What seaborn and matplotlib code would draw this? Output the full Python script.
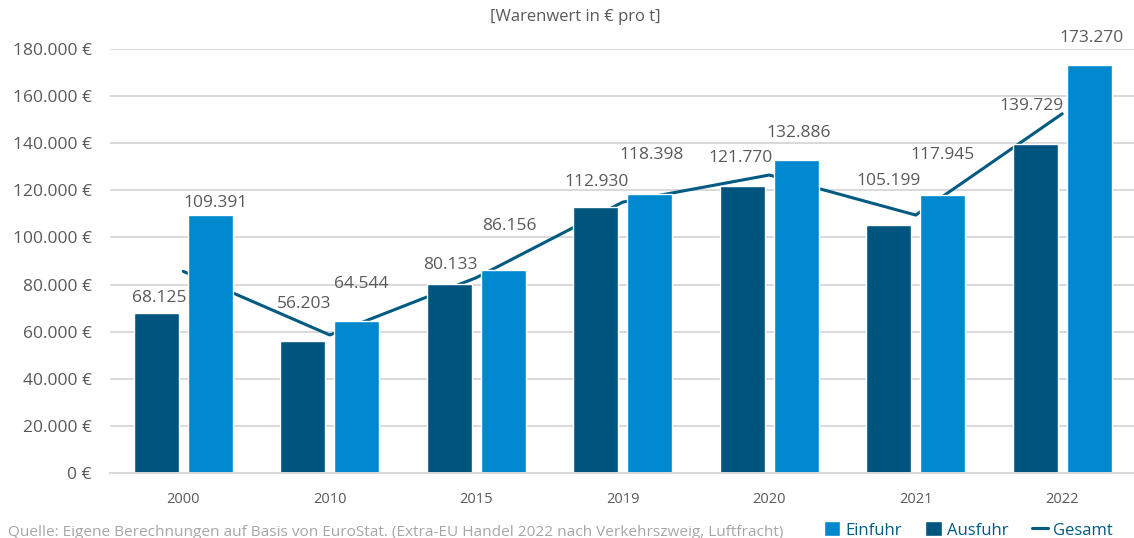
import numpy as np
import pandas as pd
import matplotlib
matplotlib.use("Agg")
import matplotlib.pyplot as plt
import seaborn as sns
from matplotlib.patches import Patch
from matplotlib.lines import Line2D
from matplotlib.ticker import FuncFormatter, MultipleLocator

# ---- data ----
years = ["2000", "2010", "2015", "2019", "2020", "2021", "2022"]
ausfuhr = [68125, 56203, 80133, 112930, 121770, 105199, 139729]
einfuhr = [109391, 64544, 86156, 118398, 132886, 117945, 173270]
gesamt = [85600, 58600, 82900, 115000, 126500, 109500, 152500]
series_names = ["Ausfuhr", "Einfuhr"]

# label offsets (pixels above bar top, horizontal shift)
dy_aus = [15, 37, 19, 25, 28, 44, 38]
dy_ein = [12, 37, 44, 39, 27, 40, 27]
dx_aus = [3, 1, 1, 1, -2, 0, -4]
dx_ein = [5, 5, 6, 2, 2, 0, 2]

C_AUS = "#00557F"
C_EIN = "#0088CE"
C_LINE = "#005A82"
C_TEXT = "#595959"
C_GRID = "#D9D9D9"

sns.set_theme(style="white")
plt.rcParams["font.family"] = ["Open Sans", "DejaVu Sans"]

df = pd.DataFrame({
    "Jahr": years * 2,
    "Wert": ausfuhr + einfuhr,
    "Serie": [series_names[0]] * len(years) + [series_names[1]] * len(years),
})

fig = plt.figure(figsize=(11.34, 5.38), dpi=100)
ax = fig.add_axes([110 / 1134, 1 - 473 / 538, 1 - 110 / 1134, (473 - 49) / 538])

ax.set_axisbelow(True)
ax.yaxis.grid(True, color=C_GRID, linewidth=1.4)
ax.set_ylim(0, 180000)
ax.yaxis.set_major_locator(MultipleLocator(20000))

# line behind bars
sns.lineplot(x=np.arange(len(years)), y=gesamt, ax=ax, color=C_LINE,
             linewidth=2.2, zorder=1.5, legend=False)

sns.barplot(data=df, x="Jahr", y="Wert", hue="Serie", order=years,
            hue_order=series_names, palette=[C_AUS, C_EIN], width=0.736,
            gap=0.166, ax=ax, legend=False, zorder=2, saturation=1)

ax.set_xlim(-0.5, 6.49)

# data labels
for i, (va, ve) in enumerate(zip(ausfuhr, einfuhr)):
    for val, xoff, dy, dx in ((va, -0.184, dy_aus[i], dx_aus[i]),
                              (ve, 0.184, dy_ein[i], dx_ein[i])):
        ax.annotate(f"{val:,}".replace(",", "."), xy=(i + xoff, val),
                    xytext=(dx, dy), textcoords="offset pixels",
                    ha="center", va="center", fontsize=12.5, color=C_TEXT,
                    annotation_clip=False)

ax.yaxis.set_major_formatter(FuncFormatter(
    lambda v, p: (f"{int(v):,}".replace(",", ".") + " €")))
ax.tick_params(axis="y", length=0, pad=13, labelsize=12.5, labelcolor=C_TEXT)
ax.tick_params(axis="x", length=0, pad=14, labelsize=10.5, labelcolor=C_TEXT)
ax.set_xlabel("")
ax.set_ylabel("")
for s in ["top", "right", "left"]:
    ax.spines[s].set_visible(False)
ax.spines["bottom"].set_color(C_GRID)
ax.spines["bottom"].set_linewidth(1.4)

fig.text(575 / 1134, 1 - 17 / 538, "[Warenwert in € pro t]", ha="center",
         va="center", fontsize=12, color=C_TEXT)

fig.text(8 / 1134, 1 - 532 / 538,
         "Quelle: Eigene Berechnungen auf Basis von EuroStat. (Extra-EU Handel 2022 nach Verkehrszweig, Luftfracht)",
         ha="left", va="center", fontsize=11.1, color="#A6A6A6")

handles = [Patch(facecolor=C_EIN, label="Einfuhr"),
           Patch(facecolor=C_AUS, label="Ausfuhr"),
           Line2D([0], [0], color=C_LINE, linewidth=2.2, label="Gesamt")]
leg = fig.legend(handles=handles, loc="center right",
                 bbox_to_anchor=(1113 / 1134, 1 - 530 / 538), ncol=3,
                 frameon=False, fontsize=12, handlelength=1.0, handleheight=1.0,
                 handletextpad=0.3, columnspacing=1.4, borderaxespad=0,
                 borderpad=0)
for t in leg.get_texts():
    t.set_color(C_LINE)

fig.savefig("out.png", dpi=100)
